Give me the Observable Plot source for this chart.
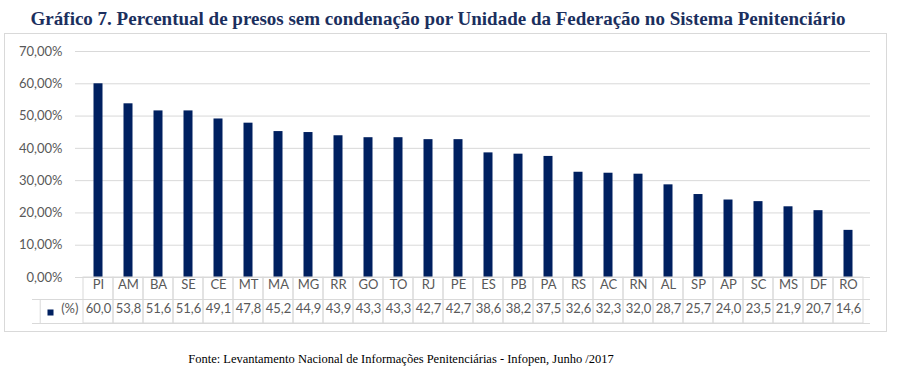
<!DOCTYPE html>
<html>
<head>
<meta charset="utf-8">
<script src="https://cdn.jsdelivr.net/npm/d3@7"></script>
<script src="https://cdn.jsdelivr.net/npm/@observablehq/plot@0.6"></script>
<style>
  html, body { margin: 0; padding: 0; background: #fff; }
  #wrap { position: relative; width: 901px; height: 380px; overflow: hidden; }
  #title { position: absolute; left: 0; top: 8px; width: 876px; text-align: center;
    font-family: "Liberation Serif", "Times New Roman", serif; font-weight: bold; font-size: 19px;
    line-height: 22px; color: #1b2f5e; white-space: nowrap; }
  #box { position: absolute; left: 4px; top: 33px; width: 881px; height: 297px; border: 1px solid #d9d9d9; }
  #chart { position: absolute; left: 0; top: 33px; }
  #foot { position: absolute; left: 0; top: 352px; width: 802px; text-align: center;
    font-family: "Liberation Serif", "Times New Roman", serif; font-size: 12.5px; line-height: 14px; color: #000; white-space: nowrap; }
</style>
</head>
<body>
<div id="wrap">
  <div id="title"></div>
  <div id="box"></div>
  <div id="chart"></div>
  <div id="foot"></div>
</div>
<script>
const titleText = "Gráfico 7. Percentual de presos sem condenação por Unidade da Federação no Sistema Penitenciário";
const footText = "Fonte: Levantamento Nacional de Informações Penitenciárias - Infopen, Junho /2017";
const categories = ["PI","AM","BA","SE","CE","MT","MA","MG","RR","GO","TO","RJ","PE","ES","PB","PA","RS","AC","RN","AL","SP","AP","SC","MS","DF","RO"];
const values = [60.0,53.8,51.6,51.6,49.1,47.8,45.2,44.9,43.9,43.3,43.3,42.7,42.7,38.6,38.2,37.5,32.6,32.3,32.0,28.7,25.7,24.0,23.5,21.9,20.7,14.6];
const yTicks = [0,10,20,30,40,50,60,70];
const seriesLabel = "(%)";

document.getElementById("title").textContent = titleText;
document.getElementById("foot").textContent = footText;

const data = categories.map((c, i) => ({uf: c, v: values[i]}));
const W = 901, H = 300, ML = 75, MR = 31, MT = 18, MB = 56;
const step = (W - ML - MR) / categories.length;
const frameH = H - MT - MB;
const navy = "#002060", grid = "#d9d9d9", gray = "#595959";
const pct = d => d.toFixed(2).replace(".", ",") + "%";
const num = d => d.toFixed(1).replace(".", ",");
const first = () => categories[0];

const chart = Plot.plot({
  width: W, height: H,
  marginLeft: ML, marginRight: MR, marginTop: MT, marginBottom: MB,
  x: {domain: categories, padding: 0, axis: null},
  y: {domain: [0, 70], axis: null},
  style: {fontFamily: "Lato, 'Open Sans', sans-serif", fontSize: "13px", color: gray, background: "transparent", overflow: "visible"},
  marks: [
    Plot.ruleY(yTicks, {stroke: grid, strokeWidth: 1}),
    Plot.axisY(yTicks, {tickSize: 0, tickPadding: 13, tickFormat: pct, fill: gray, fontSize: 13, label: null}),
    Plot.barY(data, {x: "uf", y: "v", fill: navy, insetLeft: 10.5, insetRight: 10.5}),
    // data table under the chart
    Plot.cell(data, {x: "uf", fill: "none", stroke: grid, insetTop: frameH, insetBottom: -46}),
    Plot.ruleY([0], {dy: 22, stroke: grid, insetLeft: -43}),
    Plot.ruleY([0], {dy: 46, stroke: grid, insetLeft: -43}),
    Plot.ruleX([categories[0]], {dx: -step / 2 - 43, stroke: grid, insetTop: frameH + 22, insetBottom: -46}),
    Plot.text(data, {x: "uf", text: "uf", frameAnchor: "bottom", dy: 11, fill: gray, fontSize: 13}),
    Plot.text(data, {x: "uf", text: d => num(d.v), frameAnchor: "bottom", dy: 35, fill: gray, fontSize: 13}),
    Plot.text([seriesLabel], {x: first, text: d => d, frameAnchor: "bottom", dy: 35, dx: -20, textAnchor: "end", fill: gray, fontSize: 13}),
    Plot.dot([seriesLabel], {x: first, frameAnchor: "bottom", dy: 35, dx: -48, symbol: "square", r: 3.4, fill: navy, stroke: "none"})
  ]
});
document.getElementById("chart").appendChild(chart);
</script>
</body>
</html>
